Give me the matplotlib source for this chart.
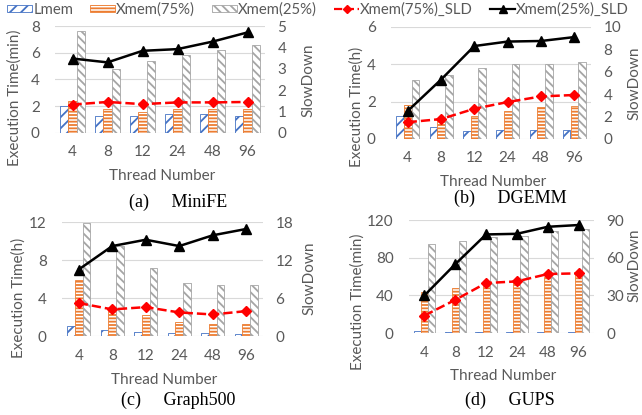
import matplotlib
matplotlib.use("Agg")
import matplotlib.pyplot as plt
import numpy as np
from matplotlib.patches import Patch
from matplotlib.lines import Line2D

threads = ["4", "8", "12", "24", "48", "96"]

# (a) MiniFE
a_lmem = [2.0, 1.3, 1.3, 1.4, 1.4, 1.3]
a_x75 = [2.4, 1.8, 1.6, 1.8, 1.8, 1.8]
a_x25 = [7.6, 4.8, 5.4, 5.8, 6.2, 6.6]
a_x75_sld = [1.33, 1.45, 1.35, 1.43, 1.43, 1.45]
a_x25_sld = [3.48, 3.3, 3.84, 3.92, 4.27, 4.7]

# (b) DGEMM
b_lmem = [1.24, 0.66, 0.44, 0.48, 0.48, 0.46]
b_x75 = [1.81, 0.95, 1.24, 1.51, 1.74, 1.78]
b_x25 = [3.14, 3.45, 3.78, 4.0, 4.01, 4.14]
b_x75_sld = [1.5, 1.78, 2.7, 3.3, 3.8, 3.93]
b_x25_sld = [2.5, 5.3, 8.3, 8.7, 8.75, 9.1]

# (c) Graph500
c_lmem = [1.08, 0.6, 0.42, 0.3, 0.3, 0.25]
c_x75 = [5.85, 2.6, 2.2, 1.43, 1.22, 1.3]
c_x25 = [11.9, 9.5, 7.2, 5.6, 5.4, 5.4]
c_x75_sld = [5.2, 4.2, 4.56, 3.72, 3.4, 3.93]
c_x25_sld = [10.5, 14.2, 15.2, 14.2, 15.9, 16.9]

# (d) GUPS
d_lmem = [2.5, 1.5, 1.5, 1.5, 1.5, 1.5]
d_x75 = [44, 48, 50, 54, 60, 62]
d_x25 = [95, 98, 102, 103.5, 108, 110]
d_x75_sld = [13.9, 26.4, 39.8, 41.1, 47.0, 47.5]
d_x25_sld = [29.9, 54.8, 78.5, 79.0, 84.6, 86.0]

series_names = ["Lmem", "Xmem(75%)", "Xmem(25%)", "Xmem(75%)_SLD", "Xmem(25%)_SLD"]

plt.rcParams['font.family'] = ['Lato', 'DejaVu Sans']
plt.rcParams['hatch.linewidth'] = 1.3

W, H = 642, 415
fig = plt.figure(figsize=(W / 100, H / 100), dpi=100)

GRAY = "#595959"
BLUE = "#4472C4"
ORANGE = "#ED7D31"
LGRAY = "#A5A5A5"
FS = 11
SERIF = ["Liberation Serif", "DejaVu Serif"]


def px_axes(x0, x1, ytop, ybot):
    return fig.add_axes([x0 / W, (H - ybot) / H, (x1 - x0) / W, (ybot - ytop) / H])


def ftext(xp, yp, s, **kw):
    fig.text(xp / W, (H - yp) / H, s, ha="center", va="center", **kw)


# each panel: data, limits, texts, and pixel layout
panels = [
    dict(d=(a_lmem, a_x75, a_x25, a_x75_sld, a_x25_sld), ylim=(0, 8), yt=[0, 2, 4, 6, 8],
         rlim=(0, 5), rt=[0, 1, 2, 3, 4, 5], ylab="Execution Time(min)", cap="(a)     MiniFE",
         box=(55, 265, 26, 133), ylab_pos=(15, 98), rlab_pos=(308, 80), xlab_y=176, cap_pos=(178, 202)),
    dict(d=(b_lmem, b_x75, b_x25, b_x75_sld, b_x25_sld), ylim=(0, 6), yt=[0, 2, 4, 6],
         rlim=(0, 10), rt=[0, 2, 4, 6, 8, 10], ylab="Execution Time(h)", cap="(b)     DGEMM",
         box=(391, 591, 27, 139), ylab_pos=(357, 107), rlab_pos=(634, 83), xlab_y=182, cap_pos=(510, 198)),
    dict(d=(c_lmem, c_x75, c_x25, c_x75_sld, c_x25_sld), ylim=(0, 12), yt=[0, 4, 8, 12],
         rlim=(0, 18), rt=[0, 6, 12, 18], ylab="Execution Time(h)", cap="(c)     Graph500",
         box=(62, 263, 222, 336), ylab_pos=(19, 298), rlab_pos=(309, 278), xlab_y=380, cap_pos=(178, 400)),
    dict(d=(d_lmem, d_x75, d_x25, d_x75_sld, d_x25_sld), ylim=(0, 120), yt=[0, 40, 80, 120],
         rlim=(0, 90), rt=[0, 30, 60, 90], ylab="Execution Time(min)", cap="(d)     GUPS",
         box=(409, 594, 220, 333), ylab_pos=(358, 302), rlab_pos=(634, 265), xlab_y=376, cap_pos=(510, 400)),
]

x = np.arange(len(threads))
bw = 0.23
for p in panels:
    lmem, x75, x25, s75, s25 = p["d"]
    box = p["box"]
    ax = px_axes(*box)
    ax.bar(x - bw, lmem, bw, color="white", edgecolor=BLUE, hatch="///", linewidth=0.6, zorder=2)
    ax.bar(x, x75, bw, color="white", edgecolor=ORANGE, hatch="-----", linewidth=0.6, zorder=2)
    ax.bar(x + bw, x25, bw, color="white", edgecolor=LGRAY, hatch="\\\\\\\\", linewidth=0.6, zorder=2)
    ax.set_xlim(-0.5, len(threads) - 0.5)
    ax.set_ylim(*p["ylim"])
    ax.set_yticks(p["yt"])
    ax.set_xticks(x)
    ax.set_xticklabels(threads)
    ax.yaxis.grid(True, color="#D9D9D9", linewidth=0.8, zorder=0)
    ax.set_axisbelow(True)
    for s in ax.spines.values():
        s.set_visible(False)
    ax.tick_params(axis="y", length=0, labelsize=FS, colors=GRAY, pad=11)
    ax.tick_params(axis="x", length=0, labelsize=FS, colors=GRAY, pad=9)

    ax2 = ax.twinx()
    ax2.plot(x, s75, color="#FF0000", linestyle="--", linewidth=1.8, marker="D", markersize=5.5, zorder=3)
    ax2.plot(x, s25, color="black", linestyle="-", linewidth=1.8, marker="^", markersize=7, zorder=3)
    ax2.set_ylim(*p["rlim"])
    ax2.set_yticks(p["rt"])
    for s in ax2.spines.values():
        s.set_visible(False)
    ax2.tick_params(length=0, labelsize=FS, colors=GRAY, pad=9)

    ftext(p["ylab_pos"][0], p["ylab_pos"][1], p["ylab"], rotation=90, fontsize=FS, color=GRAY)
    ftext(p["rlab_pos"][0], p["rlab_pos"][1], "SlowDown", rotation=90, fontsize=FS, color=GRAY)
    ftext((box[0] + box[1]) / 2 + 2, p["xlab_y"], "Thread Number", fontsize=FS, color=GRAY)
    ftext(p["cap_pos"][0], p["cap_pos"][1], p["cap"], fontsize=13, family=SERIF)

handles = [
    Patch(facecolor="white", edgecolor=BLUE, hatch="///", linewidth=0.6),
    Patch(facecolor="white", edgecolor=ORANGE, hatch="-----", linewidth=0.6),
    Patch(facecolor="white", edgecolor=LGRAY, hatch="\\\\\\\\", linewidth=0.6),
    Line2D([], [], color="#FF0000", linestyle="--", linewidth=1.6, marker="D", markersize=4.5),
    Line2D([], [], color="black", linestyle="-", linewidth=1.6, marker="^", markersize=5.5),
]
fig.legend(handles, series_names, loc="upper left", bbox_to_anchor=(5 / W, 1.0),
           ncol=5, frameon=False, fontsize=10.7, handlelength=1.65, handleheight=0.35,
           handletextpad=0.1, columnspacing=1.15, borderpad=0.15, borderaxespad=0.0,
           labelcolor=GRAY)

fig.savefig("out.png", dpi=100)
